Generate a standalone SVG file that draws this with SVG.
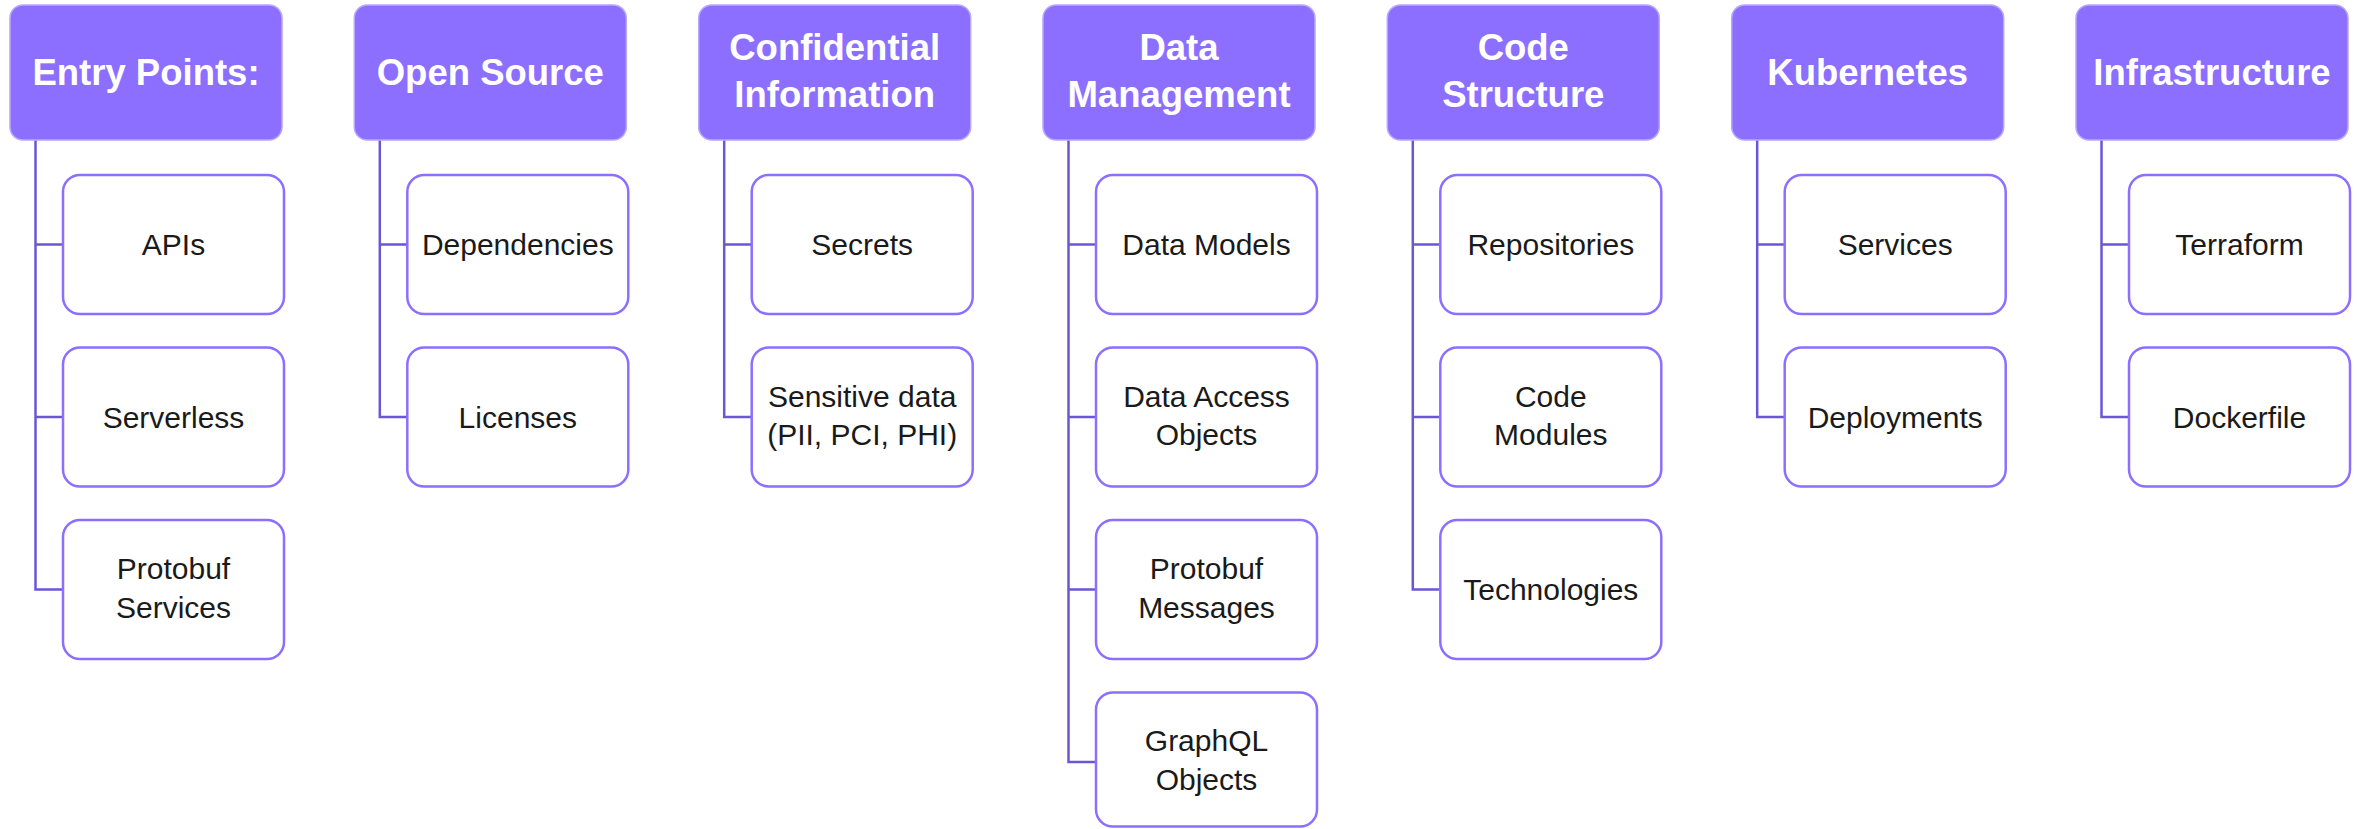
<svg xmlns="http://www.w3.org/2000/svg" width="2357" height="829" viewBox="0 0 2357 829">
<style>
.hdr{fill:#8C6FFF;stroke:#B9A8FF;stroke-width:1.5}
.ht{fill:#ffffff;font-family:"Liberation Sans",Arial,sans-serif;font-weight:bold;font-size:36.5px;text-anchor:middle}
.box{fill:#ffffff;stroke:#8C6FFF;stroke-width:2.5}
.bt{fill:#1a1a1a;font-family:"Liberation Sans",Arial,sans-serif;font-size:30px;text-anchor:middle}
.con{fill:none;stroke:#6B56D6;stroke-width:2.5}
</style>
<rect width="2357" height="829" fill="#ffffff"/>
<g id="connectors">
<path class="con" d="M35.5 140V589.5H63M35.5 244.5H63M35.5 417H63"/>
<path class="con" d="M379.8 140V417H407.3M379.8 244.5H407.3"/>
<path class="con" d="M724.2 140V417H751.7M724.2 244.5H751.7"/>
<path class="con" d="M1068.5 140V762H1096M1068.5 244.5H1096M1068.5 417H1096M1068.5 589.5H1096"/>
<path class="con" d="M1412.8 140V589.5H1440.3M1412.8 244.5H1440.3M1412.8 417H1440.3"/>
<path class="con" d="M1757.2 140V417H1784.7M1757.2 244.5H1784.7"/>
<path class="con" d="M2101.5 140V417H2129M2101.5 244.5H2129"/>
</g>
<g id="h1"><rect class="hdr" x="10" y="5" width="272" height="135" rx="13"/><text class="ht" x="146" y="85">Entry Points:</text></g>
<g id="h2"><rect class="hdr" x="354.3" y="5" width="272" height="135" rx="13"/><text class="ht" x="490.3" y="85">Open Source</text></g>
<g id="h3"><rect class="hdr" x="698.7" y="5" width="272" height="135" rx="13"/><text class="ht" x="834.7" y="60">Confidential</text><text class="ht" x="834.7" y="107">Information</text></g>
<g id="h4"><rect class="hdr" x="1043" y="5" width="272" height="135" rx="13"/><text class="ht" x="1179" y="60">Data</text><text class="ht" x="1179" y="107">Management</text></g>
<g id="h5"><rect class="hdr" x="1387.3" y="5" width="272" height="135" rx="13"/><text class="ht" x="1523.3" y="60">Code</text><text class="ht" x="1523.3" y="107">Structure</text></g>
<g id="h6"><rect class="hdr" x="1731.7" y="5" width="272" height="135" rx="13"/><text class="ht" x="1867.7" y="85">Kubernetes</text></g>
<g id="h7"><rect class="hdr" x="2076" y="5" width="272" height="135" rx="13"/><text class="ht" x="2212" y="85">Infrastructure</text></g>

<g id="c1a"><rect class="box" x="63" y="175" width="221" height="139" rx="17"/><text class="bt" x="173.5" y="255">APIs</text></g>
<g id="c1b"><rect class="box" x="63" y="347.5" width="221" height="139" rx="17"/><text class="bt" x="173.5" y="427.5">Serverless</text></g>
<g id="c1c"><rect class="box" x="63" y="520" width="221" height="139" rx="17"/><text class="bt" x="173.5" y="579">Protobuf</text><text class="bt" x="173.5" y="618">Services</text></g>

<g id="c2a"><rect class="box" x="407.3" y="175" width="221" height="139" rx="17"/><text class="bt" x="517.8" y="255">Dependencies</text></g>
<g id="c2b"><rect class="box" x="407.3" y="347.5" width="221" height="139" rx="17"/><text class="bt" x="517.8" y="427.5">Licenses</text></g>

<g id="c3a"><rect class="box" x="751.7" y="175" width="221" height="139" rx="17"/><text class="bt" x="862.2" y="255">Secrets</text></g>
<g id="c3b"><rect class="box" x="751.7" y="347.5" width="221" height="139" rx="17"/><text class="bt" x="862.2" y="407">Sensitive data</text><text class="bt" x="862.2" y="445">(PII, PCI, PHI)</text></g>

<g id="c4a"><rect class="box" x="1096" y="175" width="221" height="139" rx="17"/><text class="bt" x="1206.5" y="255">Data Models</text></g>
<g id="c4b"><rect class="box" x="1096" y="347.5" width="221" height="139" rx="17"/><text class="bt" x="1206.5" y="407">Data Access</text><text class="bt" x="1206.5" y="445">Objects</text></g>
<g id="c4c"><rect class="box" x="1096" y="520" width="221" height="139" rx="17"/><text class="bt" x="1206.5" y="579">Protobuf</text><text class="bt" x="1206.5" y="618">Messages</text></g>
<g id="c4d"><rect class="box" x="1096" y="692.5" width="221" height="134" rx="17"/><text class="bt" x="1206.5" y="751">GraphQL</text><text class="bt" x="1206.5" y="790">Objects</text></g>

<g id="c5a"><rect class="box" x="1440.3" y="175" width="221" height="139" rx="17"/><text class="bt" x="1550.8" y="255">Repositories</text></g>
<g id="c5b"><rect class="box" x="1440.3" y="347.5" width="221" height="139" rx="17"/><text class="bt" x="1550.8" y="407">Code</text><text class="bt" x="1550.8" y="445">Modules</text></g>
<g id="c5c"><rect class="box" x="1440.3" y="520" width="221" height="139" rx="17"/><text class="bt" x="1550.8" y="600">Technologies</text></g>

<g id="c6a"><rect class="box" x="1784.7" y="175" width="221" height="139" rx="17"/><text class="bt" x="1895.2" y="255">Services</text></g>
<g id="c6b"><rect class="box" x="1784.7" y="347.5" width="221" height="139" rx="17"/><text class="bt" x="1895.2" y="427.5">Deployments</text></g>

<g id="c7a"><rect class="box" x="2129" y="175" width="221" height="139" rx="17"/><text class="bt" x="2239.5" y="255">Terraform</text></g>
<g id="c7b"><rect class="box" x="2129" y="347.5" width="221" height="139" rx="17"/><text class="bt" x="2239.5" y="427.5">Dockerfile</text></g>
</svg>
